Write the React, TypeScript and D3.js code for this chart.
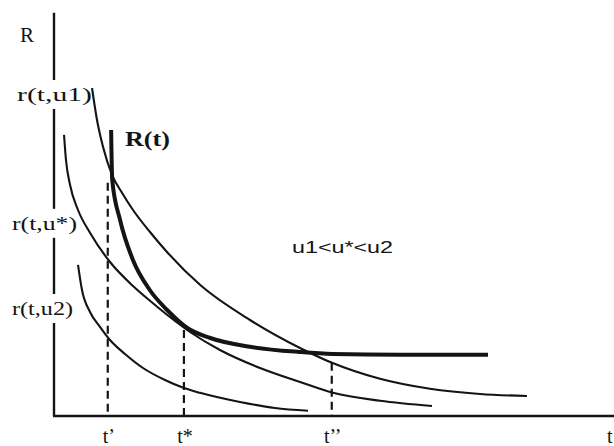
import React from "react";
import * as d3 from "d3";

const W = 614;
const H = 446;

// Curves: [t, R]
const u1Points: [number, number][] = [
  [0.679, 8.2], [0.768, 7.4], [0.875, 6.73], [1.036, 6.03], [1.214, 5.58], [1.411, 5.15],
  [1.714, 4.6], [2.018, 4.1], [2.607, 3.28], [3.5, 2.4], [4.393, 1.7], [4.964, 1.33],
  [5.821, 0.93], [6.714, 0.68], [7.607, 0.55], [8.446, 0.5],
];
const uStarPoints: [number, number][] = [
  [0.179, 7.03], [0.214, 6.4], [0.286, 5.78], [0.429, 5.15], [0.643, 4.58], [1.0, 3.85],
  [1.411, 3.25], [1.714, 2.88], [2.018, 2.53], [2.429, 2.1], [2.964, 1.65], [3.679, 1.2],
  [4.393, 0.85], [4.982, 0.58], [5.821, 0.38], [6.75, 0.25],
];
const u2Points: [number, number][] = [
  [0.429, 3.78], [0.5, 3.15], [0.643, 2.6], [0.821, 2.23], [1.0, 1.9], [1.268, 1.55],
  [1.589, 1.2], [1.982, 0.9], [2.321, 0.7], [2.607, 0.58], [3.321, 0.35], [3.946, 0.2],
  [4.536, 0.13],
];
const envelopePoints: [number, number][] = [
  [1.02, 7.15], [1.04, 5.9], [1.18, 4.9], [1.41, 3.9], [1.71, 3.15], [2.02, 2.65],
  [2.38, 2.2], [2.79, 1.95], [3.5, 1.73], [4.39, 1.6], [4.98, 1.55], [6.18, 1.53],
  [7.75, 1.53],
];

const xTickValues = [0.96, 2.32, 4.96];
const xTickLabels = ["t\u2019", "t*", "t\u2019\u2019"];
const dropTops = [5.83, 2.15, 1.33];

const yLabels = ["r(t,u1)", "r(t,u*)", "r(t,u2)"];
const yLabelLevels = [8.05, 4.83, 2.7];
const yLabelStarts = [17, 12, 12];
const yLabelWidths = [75, 65, 61];

export default function App() {
  const x = d3.scaleLinear().domain([0, 10]).range([54, 614]);
  const y = d3.scaleLinear().domain([0, 10]).range([416, 16]);
  const line = d3
    .line<[number, number]>()
    .x((d) => x(d[0]))
    .y((d) => y(d[1]))
    .curve(d3.curveMonotoneX);

  const ink = "#141414";
  const serif = "'Liberation Serif', 'Times New Roman', serif";

  return (
    <svg
      width={W}
      height={H}
      viewBox={`0 0 ${W} ${H}`}
      style={{ position: "absolute", left: 0, top: 0, background: "#fff" }}
    >
      <rect x={0} y={0} width={W} height={H} fill="#fff" />
      {/* axes */}
      <line x1={x(0)} y1={y(10.08)} x2={x(0)} y2={y(0)} stroke={ink} strokeWidth={2.4} />
      <line x1={x(0) - 1} y1={y(0)} x2={x(10)} y2={y(0)} stroke={ink} strokeWidth={2.6} />

      {/* y labels with white backing that breaks the axis */}
      {yLabels.map((lab, i) => (
        <g key={lab}>
          <rect
            x={yLabelStarts[i] - 2}
            y={y(yLabelLevels[i]) - 14}
            width={yLabelWidths[i] + 4}
            height={29}
            fill="#fff"
          />
          <text
            x={yLabelStarts[i]}
            y={y(yLabelLevels[i]) + 7}
            fontFamily={serif}
            fontSize={19}
            fill={ink}
            textLength={yLabelWidths[i]}
            lengthAdjust="spacingAndGlyphs"
          >
            {lab}
          </text>
        </g>
      ))}

      <text x={20} y={42} fontFamily={serif} fontSize={21} fill={ink}>
        R
      </text>

      {/* dashed drop lines */}
      {xTickValues.map((v, i) => (
        <line
          key={"d" + i}
          x1={x(v)}
          x2={x(v)}
          y1={y(dropTops[i])}
          y2={y(0)}
          stroke={ink}
          strokeWidth={2.2}
          strokeDasharray="8,5"
        />
      ))}

      {/* curves */}
      <path d={line(u1Points) || ""} fill="none" stroke={ink} strokeWidth={2.1} />
      <path d={line(uStarPoints) || ""} fill="none" stroke={ink} strokeWidth={2.1} />
      <path d={line(u2Points) || ""} fill="none" stroke={ink} strokeWidth={2.1} />
      <path d={line(envelopePoints) || ""} fill="none" stroke={ink} strokeWidth={4} />

      <text
        x={125}
        y={146}
        fontFamily={serif}
        fontSize={20}
        fontWeight="bold"
        fill={ink}
        textLength={45}
        lengthAdjust="spacingAndGlyphs"
      >
        R(t)
      </text>

      <text
        x={292}
        y={253}
        fontFamily="'Liberation Sans', Arial, sans-serif"
        fontSize={17}
        fill={ink}
        textLength={101}
        lengthAdjust="spacingAndGlyphs"
      >
        u1&lt;u*&lt;u2
      </text>

      {/* x tick labels */}
      {xTickValues.map((v, i) => (
        <text
          key={"t" + i}
          x={x(v) + 1}
          y={443}
          textAnchor="middle"
          fontFamily={serif}
          fontSize={20}
          fill={ink}
        >
          {xTickLabels[i]}
        </text>
      ))}
      <text x={607} y={443} fontFamily={serif} fontSize={20} fill={ink}>
        t
      </text>
    </svg>
  );
}
